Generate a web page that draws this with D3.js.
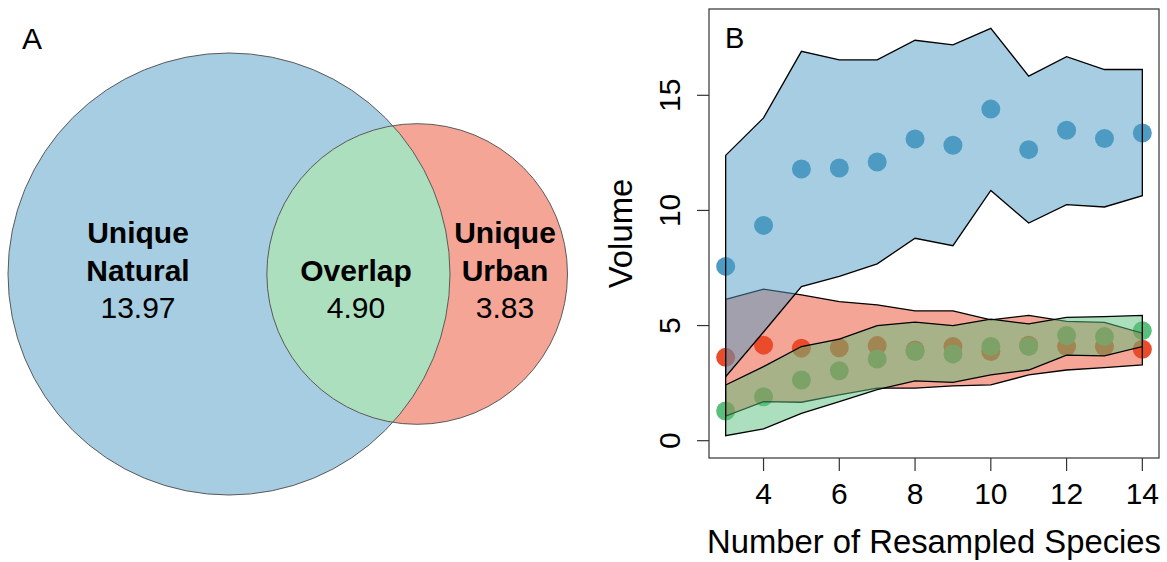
<!DOCTYPE html>
<html><head><meta charset="utf-8">
<script src="https://cdn.jsdelivr.net/npm/d3@7"></script>
<style>
body{margin:0;background:#fff}
svg{display:block}
text{font-family:"Liberation Sans",Arial,Helvetica,sans-serif;fill:#000}
</style>
</head><body>
<svg id="chart" width="1167" height="562"></svg>
<script>
// ---------- Panel A data (Venn) ----------
const vennNames  = ["Unique\nNatural", "Overlap", "Unique\nUrban"];
const vennValues = [13.97, 4.90, 3.83];

// ---------- Panel B data ----------
const species      = [3, 4, 5, 6, 7, 8, 9, 10, 11, 12, 13, 14];
const naturalMean  = [7.57, 9.35, 11.80, 11.84, 12.10, 13.10, 12.83, 14.40, 12.64, 13.48, 13.12, 13.36];
const naturalUpper = [12.39, 14.02, 16.91, 16.54, 16.54, 17.39, 17.19, 17.91, 15.83, 16.68, 16.12, 16.12];
const naturalLower = [2.78, 4.72, 6.69, 7.14, 7.68, 8.79, 8.47, 10.87, 9.45, 10.25, 10.15, 10.64];
const urbanMean    = [3.62, 4.15, 4.02, 4.04, 4.13, 3.94, 4.09, 3.87, 4.15, 4.09, 4.09, 3.97];
const urbanUpper   = [6.14, 6.58, 6.33, 6.04, 5.90, 5.64, 5.64, 5.25, 5.44, 5.18, 5.14, 4.67];
const urbanLower   = [1.07, 1.70, 1.67, 1.99, 2.28, 2.28, 2.38, 2.42, 2.86, 3.07, 3.17, 3.29];
const overlapMean  = [1.29, 1.91, 2.64, 3.04, 3.55, 3.87, 3.77, 4.09, 4.09, 4.57, 4.52, 4.78];
const overlapUpper = [2.42, 3.22, 4.09, 4.41, 5.00, 5.15, 5.00, 5.28, 5.07, 5.36, 5.39, 5.44];
const overlapLower = [0.22, 0.51, 1.19, 1.70, 2.22, 2.60, 2.53, 2.86, 3.07, 3.72, 3.68, 4.09];
const xTicks = [4, 6, 8, 10, 12, 14];
const yTicks = [0, 5, 10, 15];

const blue = "#4d9bc3", red = "#e94b2b", green = "#59bf7b";
const light = c => d3.interpolateRgb(c, "#ffffff")(0.5);

const svg = d3.select("#chart");

// ================= Panel A =================
const gA = svg.append("g");
gA.append("text").attr("x", 22).attr("y", 49).attr("font-size", 30).text("A");

const areaNat = vennValues[0] + vennValues[1];
const areaUrb = vennValues[1] + vennValues[2];
const k = 221 / Math.sqrt(areaNat);
const r1 = k * Math.sqrt(areaNat), r2 = k * Math.sqrt(areaUrb);
const targetOverlap = k * k * vennValues[1] * Math.PI;
function lens(d) {
  const a1 = Math.acos((d*d + r1*r1 - r2*r2) / (2*d*r1));
  const a2 = Math.acos((d*d + r2*r2 - r1*r1) / (2*d*r2));
  const s = Math.sqrt((-d+r1+r2)*(d+r1-r2)*(d-r1+r2)*(d+r1+r2));
  return r1*r1*a1 + r2*r2*a2 - 0.5*s;
}
let lo = r1 - r2 + 0.01, hi = r1 + r2 - 0.01;
for (let i = 0; i < 60; i++) { const m = (lo+hi)/2; if (lens(m) > targetOverlap) lo = m; else hi = m; }
const dist = (lo+hi)/2;
const cx1 = 229, cy = 274, cx2 = cx1 + dist;

svg.append("defs").append("clipPath").attr("id", "bigClip")
  .append("circle").attr("cx", cx1).attr("cy", cy).attr("r", r1);

gA.append("circle").attr("cx", cx1).attr("cy", cy).attr("r", r1).attr("fill", light(blue));
gA.append("circle").attr("cx", cx2).attr("cy", cy).attr("r", r2).attr("fill", light(red));
gA.append("circle").attr("cx", cx2).attr("cy", cy).attr("r", r2).attr("fill", light(green))
  .attr("clip-path", "url(#bigClip)");
gA.append("circle").attr("cx", cx1).attr("cy", cy).attr("r", r1).attr("fill", "none").attr("stroke", "#5a5a5a").attr("stroke-width", 1);
gA.append("circle").attr("cx", cx2).attr("cy", cy).attr("r", r2).attr("fill", "none").attr("stroke", "#5a5a5a").attr("stroke-width", 1);

const labelX = [138, 356, 505];
vennNames.forEach((nm, i) => {
  const lines = nm.split("\n");
  lines.forEach((ln, j) => {
    gA.append("text").attr("x", labelX[i]).attr("y", 281 - 38 * (lines.length - 1 - j))
      .attr("text-anchor", "middle").attr("font-size", 30).attr("font-weight", "bold").text(ln);
  });
  gA.append("text").attr("x", labelX[i]).attr("y", 318).attr("text-anchor", "middle")
    .attr("font-size", 30).text(vennValues[i].toFixed(2));
});

// ================= Panel B =================
const L = 709, R = 1159, T = 9, B = 458;
const x = d3.scaleLinear().domain([2.56, 14.44]).range([L, R]);
const y = d3.scaleLinear().domain([0, 15]).range([440.7, 95.3]);
const gB = svg.append("g");

const series = [
  {mean: naturalMean, up: naturalUpper, low: naturalLower, col: blue},
  {mean: urbanMean,   up: urbanUpper,   low: urbanLower,   col: red},
  {mean: overlapMean, up: overlapUpper, low: overlapLower, col: green}
];

// points (drawn first, opaque)
series.forEach(s => {
  gB.append("g").selectAll("circle").data(species).join("circle")
    .attr("cx", d => x(d)).attr("cy", (d, i) => y(s.mean[i])).attr("r", 9.5)
    .attr("fill", s.col);
});

// bands (semi-transparent, drawn over points): urban, natural, overlap
const line = d3.line().x(d => x(d[0])).y(d => y(d[1]));
[series[1], series[0], series[2]].forEach(s => {
  const pts = species.map((d, i) => [d, s.up[i]])
    .concat(species.map((d, i) => [d, s.low[i]]).reverse());
  gB.append("path").attr("d", line(pts) + "Z")
    .attr("fill", s.col).attr("fill-opacity", 0.5)
    .attr("stroke", "#000").attr("stroke-width", 1.3).attr("stroke-linejoin", "miter");
});

// box
gB.append("rect").attr("x", L).attr("y", T).attr("width", R-L).attr("height", B-T)
  .attr("fill", "none").attr("stroke", "#333").attr("stroke-width", 1.2);

// x axis
gB.append("g").selectAll("line").data(xTicks).join("line")
  .attr("x1", d => x(d)).attr("x2", d => x(d)).attr("y1", B).attr("y2", B + 13)
  .attr("stroke", "#333").attr("stroke-width", 1.2);
gB.append("g").selectAll("text").data(xTicks).join("text")
  .attr("x", d => x(d)).attr("y", 504).attr("text-anchor", "middle").attr("font-size", 30)
  .text(d => d);
gB.append("text").attr("x", 934).attr("y", 553).attr("text-anchor", "middle")
  .attr("font-size", 32.8).text("Number of Resampled Species");

// y axis
gB.append("g").selectAll("line").data(yTicks).join("line")
  .attr("x1", L - 12).attr("x2", L).attr("y1", d => y(d)).attr("y2", d => y(d))
  .attr("stroke", "#333").attr("stroke-width", 1.2);
gB.append("g").selectAll("text").data(yTicks).join("text")
  .attr("transform", d => `translate(680,${y(d)}) rotate(-90)`)
  .attr("text-anchor", "middle").attr("font-size", 30).text(d => d);
gB.append("text").attr("transform", `translate(632,${(T+B)/2}) rotate(-90)`)
  .attr("text-anchor", "middle").attr("font-size", 32.8).text("Volume");

gB.append("text").attr("x", 725).attr("y", 48).attr("font-size", 29).text("B");
</script>
</body></html>
